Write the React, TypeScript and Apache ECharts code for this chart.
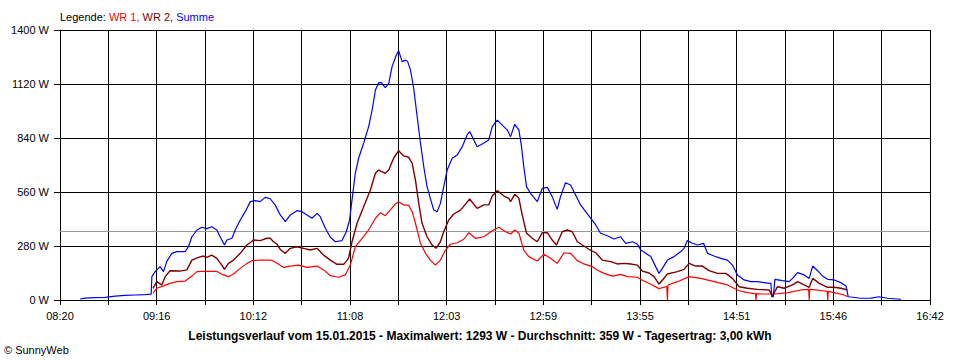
import { useEffect, useRef } from 'react';
import * as echarts from 'echarts';

// x axis: minutes after 08:20, axis spans to 16:42
const xTickLabels = ['08:20', '09:16', '10:12', '11:08', '12:03', '12:59', '13:55', '14:51', '15:46', '16:42'];
const spanMinutes = 502;
const gridSteps = 18;

const dateText = '15.01.2015';
const maxValueW = 1293;
const averageW = 359;
const yieldKwh = '3,00';

// Summe (blue)
const sumTimes = [
  11.6, 14.4, 20.2, 26.0, 31.8, 37.5, 43.3, 49.1, 52.6, 53.0,
  54.9, 57.8, 59.7, 61.6, 64.5, 67.4, 72.2, 74.1, 76.1, 79.0,
  81.9, 84.7, 87.6, 90.5, 92.4, 94.9, 96.3, 99.2, 101.1, 104.0,
  106.9, 109.8, 112.6, 115.5, 118.4, 121.3, 124.2, 127.1, 130.0, 132.9,
  136.7, 139.6, 142.5, 145.4, 148.3, 150.2, 153.1, 156.0, 158.9, 162.7,
  165.2, 167.1, 168.5, 170.4, 172.3, 175.2, 178.1, 180.1, 182.0, 183.9,
  185.4, 187.7, 189.7, 191.6, 194.1, 195.4, 197.4, 199.3, 200.6, 202.2,
  204.1, 206.1, 208.0, 209.9, 211.8, 213.7, 215.6, 217.6, 219.5, 221.4,
  223.4, 226.3, 229.2, 232.1, 234.9, 236.4, 238.8, 240.7, 243.6, 247.4,
  249.4, 252.3, 255.2, 258.1, 260.0, 262.4, 264.8, 266.3, 267.6, 269.2,
  271.5, 275.4, 278.3, 281.2, 284.0, 286.9, 288.8, 291.7, 294.6, 297.5,
  300.4, 303.3, 306.2, 309.1, 311.9, 315.8, 319.6, 323.5, 326.4, 330.3,
  333.1, 335.1, 338.0, 340.9, 343.7, 345.6, 347.6, 350.5, 354.3, 358.2,
  360.1, 362.0, 364.9, 367.8, 371.3, 373.6, 377.4, 381.3, 385.1, 388.0,
  390.9, 394.7, 398.6, 402.5, 406.3, 409.2, 410.2, 410.7, 411.6, 412.5,
  416.9, 420.8, 423.6, 425.6, 429.4, 432.3, 434.3, 437.2, 440.0, 442.9,
  446.7, 450.6, 453.5, 454.8, 462.1, 467.9, 472.7, 477.6, 485.3,
];
const sumValues = [
  5, 10, 12, 14, 20, 24, 26, 28, 30, 121,
  147, 173, 147, 199, 242, 251, 251, 276, 328, 363,
  377, 370, 380, 363, 328, 285, 311, 320, 363, 415,
  458, 510, 515, 510, 532, 525, 492, 441, 406, 441,
  463, 458, 441, 424, 449, 432, 372, 325, 302, 308,
  354, 415, 519, 657, 735, 813, 899, 985, 1089, 1127,
  1127, 1101, 1123, 1210, 1270, 1293, 1236, 1244, 1236, 1193,
  1098, 950, 813, 691, 588, 527, 467, 458, 501, 588,
  674, 735, 752, 795, 856, 873, 830, 795, 809, 830,
  899, 933, 907, 881, 847, 911, 881, 795, 691, 588,
  553, 510, 579, 584, 536, 470, 536, 608, 596, 544,
  493, 458, 424, 389, 346, 333, 316, 328, 294, 302,
  290, 259, 242, 225, 173, 138, 164, 207, 225, 251,
  268, 308, 294, 285, 294, 242, 228, 216, 207, 181,
  130, 104, 95, 95, 90, 86, 86, 17, 17, 107,
  100, 95, 121, 142, 130, 112, 176, 152, 124, 107,
  104, 90, 73, 17, 9, 10, 17, 9, 4,
];

// WR 2 (dark red)
const wr2Times = [
  53.6, 55.9, 58.7, 60.7, 63.5, 69.3, 73.2, 76.1, 79.9, 82.8,
  84.7, 87.6, 90.5, 93.4, 94.9, 97.2, 100.1, 104.0, 107.9, 111.7,
  115.5, 119.4, 121.3, 123.2, 125.2, 127.1, 130.0, 132.9, 136.7, 140.6,
  144.4, 148.3, 152.1, 156.0, 159.8, 163.7, 166.5, 168.5, 171.4, 175.2,
  179.1, 182.0, 183.9, 187.7, 189.7, 192.5, 195.4, 198.3, 201.2, 203.2,
  205.1, 207.0, 208.9, 211.8, 214.7, 217.0, 219.5, 221.4, 224.3, 227.2,
  231.1, 234.0, 236.4, 240.7, 244.6, 247.4, 249.4, 252.3, 256.2, 259.0,
  260.0, 262.4, 264.8, 266.7, 269.2, 272.5, 275.4, 278.3, 281.2, 284.0,
  286.5, 289.8, 292.7, 295.6, 298.5, 301.4, 305.2, 309.1, 312.9, 317.7,
  321.6, 325.4, 329.3, 333.1, 336.0, 339.9, 342.8, 345.6, 350.5, 356.3,
  360.1, 363.0, 366.8, 370.7, 374.5, 379.4, 384.2, 388.0, 391.9, 396.7,
  402.5, 409.2, 411.1, 414.0, 417.9, 422.6, 425.6, 429.4, 432.3, 434.3,
  438.1, 442.9, 446.7, 450.6, 454.4,
];
const wr2Values = [
  60, 95, 78, 121, 152, 150, 156, 207, 221, 228,
  221, 233, 216, 181, 159, 190, 207, 242, 285, 311,
  308, 320, 320, 302, 290, 262, 242, 268, 276, 268,
  259, 268, 233, 207, 185, 185, 216, 302, 398, 484,
  570, 657, 674, 657, 674, 735, 774, 747, 740, 709,
  622, 501, 398, 328, 285, 268, 302, 354, 415, 446,
  466, 497, 524, 475, 493, 493, 539, 567, 539, 527,
  510, 548, 527, 441, 346, 320, 302, 349, 349, 311,
  285, 354, 363, 354, 302, 285, 263, 245, 207, 199,
  187, 190, 187, 181, 150, 140, 121, 82, 135, 147,
  159, 190, 176, 176, 152, 138, 138, 112, 69, 61,
  55, 52, 20, 69, 61, 78, 95, 78, 66, 112,
  86, 66, 66, 61, 52,
];

// WR 1 (red)
const wr1Times = [
  53.6, 55.9, 59.7, 63.5, 67.4, 72.2, 76.1, 79.0, 84.7, 90.5,
  94.3, 97.2, 100.1, 104.0, 107.9, 110.7, 115.5, 120.3, 122.5, 125.2,
  129.0, 132.9, 137.7, 142.5, 148.3, 152.1, 156.0, 160.8, 164.6, 167.5,
  170.4, 174.3, 178.1, 182.0, 184.9, 187.7, 190.6, 193.5, 195.4, 198.3,
  201.2, 203.2, 205.1, 208.0, 210.9, 213.7, 216.6, 219.5, 222.4, 225.3,
  229.2, 233.0, 235.9, 239.7, 244.6, 249.4, 253.2, 257.1, 260.0, 262.4,
  264.8, 267.6, 270.5, 275.4, 279.2, 283.1, 286.9, 290.8, 294.6, 298.5,
  302.3, 307.1, 310.0, 313.9, 318.7, 323.5, 327.3, 333.1, 336.0, 340.9,
  345.6, 350.1, 350.5, 350.8, 356.3, 363.0, 369.7, 377.4, 385.1, 391.9,
  396.7, 401.3, 401.6, 401.9, 404.4, 412.1, 420.1, 427.5, 432.0, 432.3,
  432.6, 433.3, 440.0, 442.7, 443.0, 443.3, 446.7, 452.5, 454.4,
];
const wr1Values = [
  35, 61, 73, 86, 95, 98, 124, 147, 149, 148,
  130, 121, 135, 164, 190, 204, 207, 207, 205, 190,
  169, 176, 181, 169, 176, 156, 126, 118, 130, 181,
  276, 320, 363, 424, 453, 437, 467, 498, 510, 493,
  492, 458, 398, 294, 242, 207, 181, 207, 259, 289,
  297, 315, 349, 320, 328, 359, 377, 354, 342, 363,
  346, 259, 225, 202, 237, 216, 190, 245, 242, 204,
  187, 173, 156, 138, 124, 133, 121, 118, 102, 82,
  59, 70, 0, 78, 95, 121, 112, 95, 78, 48,
  38, 33, 0, 33, 31, 31, 38, 52, 55, 0,
  55, 55, 48, 45, 0, 45, 38, 26, 17,
];

const FONT = '"Liberation Sans", Arial, sans-serif';

function zip(t: number[], v: number[]) {
  return t.map((x, i) => [x, v[i]]);
}

export default function App() {
  const ref = useRef<HTMLDivElement>(null);
  useEffect(() => {
    document.body.style.margin = '0';
    const chart = echarts.init(ref.current!, null, { renderer: 'svg' });
    const step = spanMinutes / gridSteps;
    const summary = `Leistungsverlauf vom ${dateText} - Maximalwert: ${maxValueW} W - Durchschnitt: ${averageW} W - Tagesertrag: ${yieldKwh} kWh`;
    chart.setOption({
      animation: false,
      backgroundColor: '#ffffff',
      textStyle: { fontFamily: FONT },
      title: [
        {
          text: '{k|Legende: }{r|WR 1, }{d|WR 2, }{b|Summe}',
          left: 60,
          top: 11,
          padding: 0,
          textStyle: {
            fontSize: 11,
            fontFamily: FONT,
            fontWeight: 'normal',
            rich: {
              k: { color: '#000000', fontSize: 11, fontFamily: FONT },
              r: { color: '#ff0000', fontSize: 11, fontFamily: FONT },
              d: { color: '#800000', fontSize: 11, fontFamily: FONT },
              b: { color: '#0000ff', fontSize: 11, fontFamily: FONT },
            },
          },
        },
        {
          text: summary,
          left: 'center',
          top: 330,
          padding: 0,
          textStyle: { fontSize: 12, fontWeight: 'bold', color: '#000000', fontFamily: FONT },
        },
        {
          text: '© SunnyWeb',
          left: 4,
          top: 344,
          padding: 0,
          textStyle: { fontSize: 11, fontWeight: 'normal', color: '#000000', fontFamily: FONT },
        },
      ],
      grid: { left: 60, right: 30, top: 30, bottom: 60, containLabel: false },
      xAxis: {
        type: 'value',
        min: 0,
        max: spanMinutes,
        interval: step,
        axisLine: { show: true, lineStyle: { color: '#000000', width: 1 } },
        axisTick: { show: true, length: 5, lineStyle: { color: '#000000', width: 1 } },
        splitLine: { show: true, lineStyle: { color: '#000000', width: 1, type: 'solid' } },
        axisLabel: {
          show: true,
          margin: 10,
          color: '#000000',
          fontSize: 11,
          fontFamily: FONT,
          showMinLabel: true,
          showMaxLabel: true,
          hideOverlap: false,
          formatter: (v: number) => {
            const i = Math.round(v / step);
            return i % 2 === 0 ? xTickLabels[i / 2] ?? '' : '';
          },
        },
      },
      yAxis: {
        type: 'value',
        min: 0,
        max: 1400,
        interval: 280,
        axisLine: { show: true, lineStyle: { color: '#000000', width: 1 } },
        axisTick: { show: true, length: 6, lineStyle: { color: '#000000', width: 1 } },
        splitLine: { show: true, lineStyle: { color: '#000000', width: 1, type: 'solid' } },
        axisLabel: {
          margin: 11,
          color: '#000000',
          fontSize: 11,
          fontFamily: FONT,
          formatter: (v: number) => `${v} W`,
        },
      },
      series: [
        {
          name: 'WR 1',
          type: 'line',
          data: zip(wr1Times, wr1Values),
          showSymbol: false,
          symbol: 'none',
          lineStyle: { color: '#ff0000', width: 1.2 },
          itemStyle: { color: '#ff0000' },
          z: 3,
          markLine: {
            silent: true,
            symbol: 'none',
            label: { show: false },
            lineStyle: { color: '#999999', width: 1, type: 'solid' },
            data: [{ yAxis: averageW }],
            z: 1,
          },
        },
        {
          name: 'WR 2',
          type: 'line',
          data: zip(wr2Times, wr2Values),
          showSymbol: false,
          symbol: 'none',
          lineStyle: { color: '#800000', width: 1.4 },
          itemStyle: { color: '#800000' },
          z: 4,
        },
        {
          name: 'Summe',
          type: 'line',
          data: zip(sumTimes, sumValues),
          showSymbol: false,
          symbol: 'none',
          lineStyle: { color: '#0000ff', width: 1.2 },
          itemStyle: { color: '#0000ff' },
          z: 5,
        },
      ],
    });
    return () => chart.dispose();
  }, []);
  return <div ref={ref} style={{ width: 960, height: 360 }} />;
}
